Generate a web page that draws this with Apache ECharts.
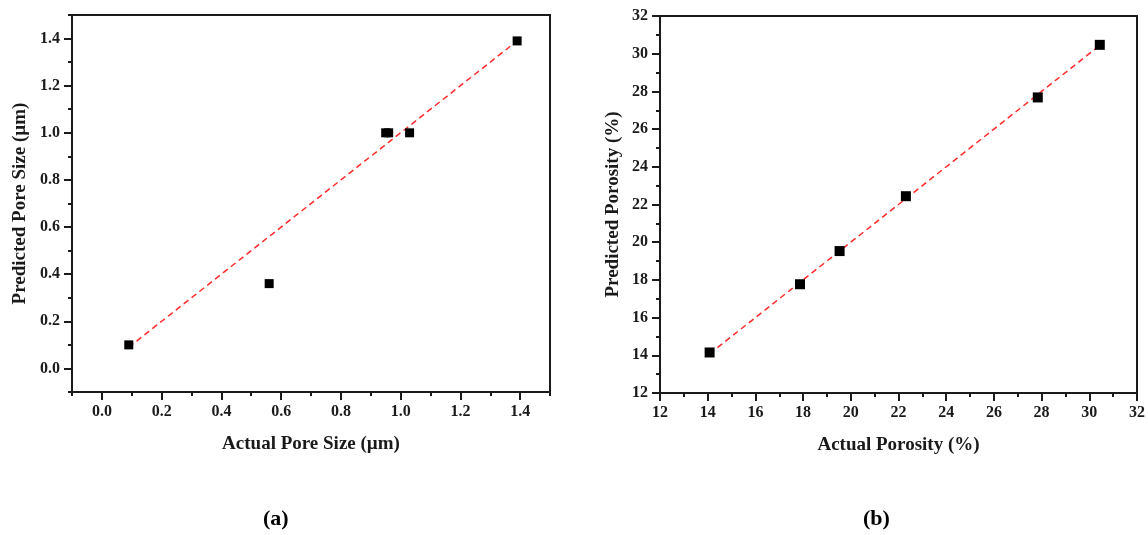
<!DOCTYPE html>
<html>
<head>
<meta charset="utf-8">
<style>
  html, body { margin: 0; padding: 0; background: #fff; }
  #chart { width: 1148px; height: 535px; }
</style>
<script src="https://cdn.jsdelivr.net/npm/echarts@6/dist/echarts.min.js"></script>
</head>
<body>
<div id="chart"></div>
<script>
// (a) pore size
const poreActual = [0.09, 0.56, 0.95, 0.96, 1.03, 1.39]
const porePredicted = [0.10, 0.36, 1.00, 1.00, 1.00, 1.39]
const poreFitX = [0.09, 1.39]
const poreFitY = [0.09, 1.39]
const poreMajor = [0, 0.2, 0.4, 0.6, 0.8, 1.0, 1.2, 1.4]
const poreMinor = [-0.1, 0.1, 0.3, 0.5, 0.7, 0.9, 1.1, 1.3, 1.5]

// (b) porosity
const porosityActual = [14.08, 17.87, 19.53, 22.31, 27.84, 30.44]
const porosityPredicted = [14.15, 17.77, 19.53, 22.44, 27.68, 30.47]
const porosityFitX = [14.08, 30.44]
const porosityFitY = [14.08, 30.44]

const captions = ['(a)', '(b)']

const FONT = '"Liberation Serif", "Times New Roman", serif'
const INK = '#1a1a1a'

const chart = echarts.init(document.getElementById('chart'), null, { renderer: 'canvas' })

const lbl = { fontFamily: FONT, fontWeight: 'bold', fontSize: 16, color: INK }
const nameStyle = { fontFamily: FONT, fontWeight: 'bold', fontSize: 19, color: INK }
const line = { show: true, onZero: false, lineStyle: { color: INK, width: 2 } }

const pairs = (xs, ys) => xs.map((x, i) => [x, ys[i]])

// main axis: line, labels, long ticks; ghost axis: short minor ticks only
const mainAxis = (grid, pos, min, max, ticks, name, gap, fmt) => ({
  type: 'value', gridIndex: grid, position: pos, min, max,
  name, nameLocation: 'middle', nameGap: gap, nameTextStyle: nameStyle,
  splitLine: { show: false },
  axisLine: line,
  axisTick: { show: true, inside: false, length: 8, customValues: ticks, lineStyle: { color: INK, width: 2 } },
  axisLabel: { ...lbl, margin: 12, customValues: ticks, formatter: fmt }
})
const ghostAxis = (grid, pos, min, max, ticks) => ({
  type: 'value', gridIndex: grid, position: pos, min, max,
  splitLine: { show: false },
  axisLine: { show: false, onZero: false },
  axisTick: { show: true, inside: false, length: 4, customValues: ticks, lineStyle: { color: INK, width: 2 } },
  axisLabel: { show: false }
})
const intAxis = (grid, pos, name, gap) => ({
  type: 'value', gridIndex: grid, position: pos, min: 12, max: 32, interval: 2,
  name, nameLocation: 'middle', nameGap: gap, nameTextStyle: nameStyle,
  splitLine: { show: false },
  axisLine: line,
  axisTick: { show: true, inside: false, length: 8, lineStyle: { color: INK, width: 2 } },
  minorTick: { show: true, splitNumber: 2, length: 4, lineStyle: { color: INK, width: 2 } },
  minorSplitLine: { show: false },
  axisLabel: { ...lbl, margin: 12 }
})

const f1 = v => v.toFixed(1)

chart.setOption({
  backgroundColor: '#fff',
  animation: false,
  grid: [
    { left: 72, top: 15, width: 478, height: 377, show: true, borderColor: INK, borderWidth: 2, backgroundColor: 'transparent' },
    { left: 660, top: 16, width: 480, height: 377, show: true, borderColor: INK, borderWidth: 2, backgroundColor: 'transparent' }
  ],
  xAxis: [
    mainAxis(0, 'bottom', -0.1, 1.5, poreMajor, 'Actual Pore Size (µm)', 43, f1),
    ghostAxis(0, 'bottom', -0.1, 1.5, poreMinor),
    intAxis(1, 'bottom', 'Actual Porosity (%)', 43)
  ],
  yAxis: [
    mainAxis(0, 'left', -0.1, 1.5, poreMajor, 'Predicted Pore Size (µm)', 42, f1),
    ghostAxis(0, 'left', -0.1, 1.5, poreMinor),
    intAxis(1, 'left', 'Predicted Porosity (%)', 37)
  ],
  series: [
    {
      type: 'line', xAxisIndex: 0, yAxisIndex: 0, z: 2,
      data: pairs(poreFitX, poreFitY), symbol: 'none',
      lineStyle: { color: '#ff2a2a', width: 1.5, type: [6, 4] }
    },
    {
      type: 'scatter', xAxisIndex: 0, yAxisIndex: 0, z: 3,
      data: pairs(poreActual, porePredicted), symbol: 'rect', symbolSize: 9,
      itemStyle: { color: '#000', opacity: 1 }
    },
    {
      type: 'line', xAxisIndex: 2, yAxisIndex: 2, z: 2,
      data: pairs(porosityFitX, porosityFitY), symbol: 'none',
      lineStyle: { color: '#ff2a2a', width: 1.5, type: [6, 4] }
    },
    {
      type: 'scatter', xAxisIndex: 2, yAxisIndex: 2, z: 3,
      data: pairs(porosityActual, porosityPredicted), symbol: 'rect', symbolSize: 10,
      itemStyle: { color: '#000', opacity: 1 }
    }
  ],
  graphic: [
    { type: 'text', left: 280 - 17, top: 508, style: { text: captions[0], font: 'bold 22px ' + FONT, fill: '#000' } },
    { type: 'text', left: 882 - 19, top: 508, style: { text: captions[1], font: 'bold 22px ' + FONT, fill: '#000' } }
  ]
})

window.addEventListener('resize', () => chart.resize())
</script>
</body>
</html>
